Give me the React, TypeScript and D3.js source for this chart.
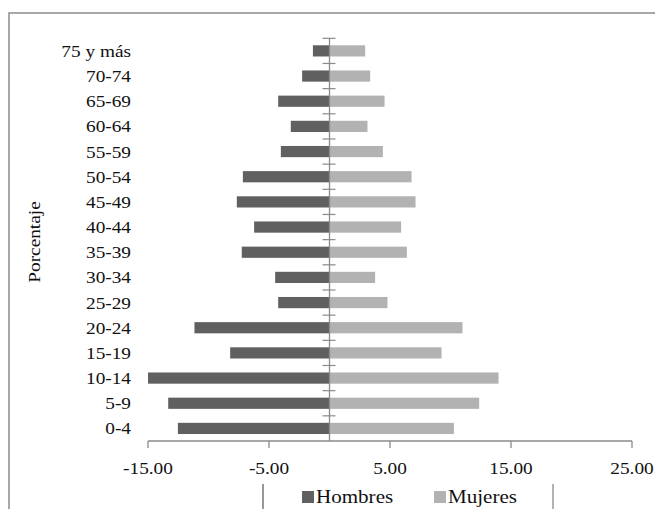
import React from "react";
import * as d3 from "d3";

const categories = ["75 y más", "70-74", "65-69", "60-64", "55-59", "50-54", "45-49", "40-44", "35-39", "30-34", "25-29", "20-24", "15-19", "10-14", "5-9", "0-4"];
const hombres = [-1.37, -2.26, -4.24, -3.2, -4.02, -7.16, -7.66, -6.23, -7.25, -4.49, -4.24, -11.16, -8.21, -15.0, -13.33, -12.53];
const mujeres = [2.95, 3.36, 4.55, 3.14, 4.41, 6.78, 7.11, 5.92, 6.39, 3.77, 4.79, 10.99, 9.26, 13.97, 12.37, 10.28];
const xTicks = [-15, -5, 5, 15, 25];
const seriesNames = ["Hombres", "Mujeres"];
const colors = ["#606060", "#b2b2b2"];

export default function App() {
  const W = 655, H = 509;
  const x = d3.scaleLinear().domain([-15, 25]).range([148, 632]);
  const y = d3.scaleBand().domain(categories).range([38.3, 441]).paddingInner(0.555).paddingOuter(0.2775);
  const yb = d3.scaleBand().domain(categories).range([38.3, 441]);
  const font = "'Liberation Serif', 'Times New Roman', serif";
  const axisColor = "#8a8a8a";
  const sx = 1.17;
  const fmt = (v: number) => v.toFixed(2);
  const x0 = x(0);
  return (
    <svg width={W} height={H} style={{ position: "absolute", left: 0, top: 0, background: "#fff" }}>
      <rect x={9} y={13} width={700} height={600} fill="#fff" stroke="#8c8c8c" strokeWidth={1.5} />
      {categories.map((c, i) => {
        const yy = y(c)!;
        const bh = y.bandwidth();
        return (
          <g key={c}>
            <rect x={x(hombres[i])} y={yy} width={x0 - x(hombres[i])} height={bh} fill={colors[0]} />
            <rect x={x0} y={yy} width={x(mujeres[i]) - x0} height={bh} fill={colors[1]} />
          </g>
        );
      })}
      <line x1={x0} x2={x0} y1={38.3} y2={441} stroke={axisColor} strokeWidth={1.3} />
      {categories.map((c) => (
        <line key={"t" + c} x1={x0 - 7} x2={x0 + 6} y1={yb(c)!} y2={yb(c)!} stroke={axisColor} strokeWidth={1.2} />
      ))}
      {categories.map((c) => (
        <text key={"l" + c} transform={`translate(131,${yb(c)! + yb.bandwidth() / 2 + 6}) scale(${sx},1)`} textAnchor="end" fontFamily={font} fontSize={16.5} fill="#111">{c}</text>
      ))}
      <line x1={x(-15)} x2={x(25)} y1={441} y2={441} stroke={axisColor} strokeWidth={1.3} />
      {xTicks.map((t) => (
        <g key={"x" + t}>
          <line x1={x(t)} x2={x(t)} y1={441} y2={448} stroke={axisColor} strokeWidth={1.3} />
          <text transform={`translate(${x(t)},474) scale(${sx},1)`} textAnchor="middle" fontFamily={font} fontSize={16.5} fill="#111">{fmt(t)}</text>
        </g>
      ))}
      <text transform={`translate(40,242) rotate(-90) scale(${sx},1)`} textAnchor="middle" fontFamily={font} fontSize={16.5} fill="#111">Porcentaje</text>
      <line x1={263} x2={263} y1={484} y2={509} stroke="#333" strokeWidth={1} />
      <line x1={553} x2={553} y1={484} y2={509} stroke={axisColor} strokeWidth={1.3} />
      {seriesNames.map((s, i) => {
        const lx = [302, 434][i];
        return (
          <g key={s}>
            <rect x={lx} y={491} width={12} height={12} fill={colors[i]} />
            <text transform={`translate(${lx + 14},503) scale(${sx},1)`} fontFamily={font} fontSize={18} fill="#111">{s}</text>
          </g>
        );
      })}
    </svg>
  );
}
